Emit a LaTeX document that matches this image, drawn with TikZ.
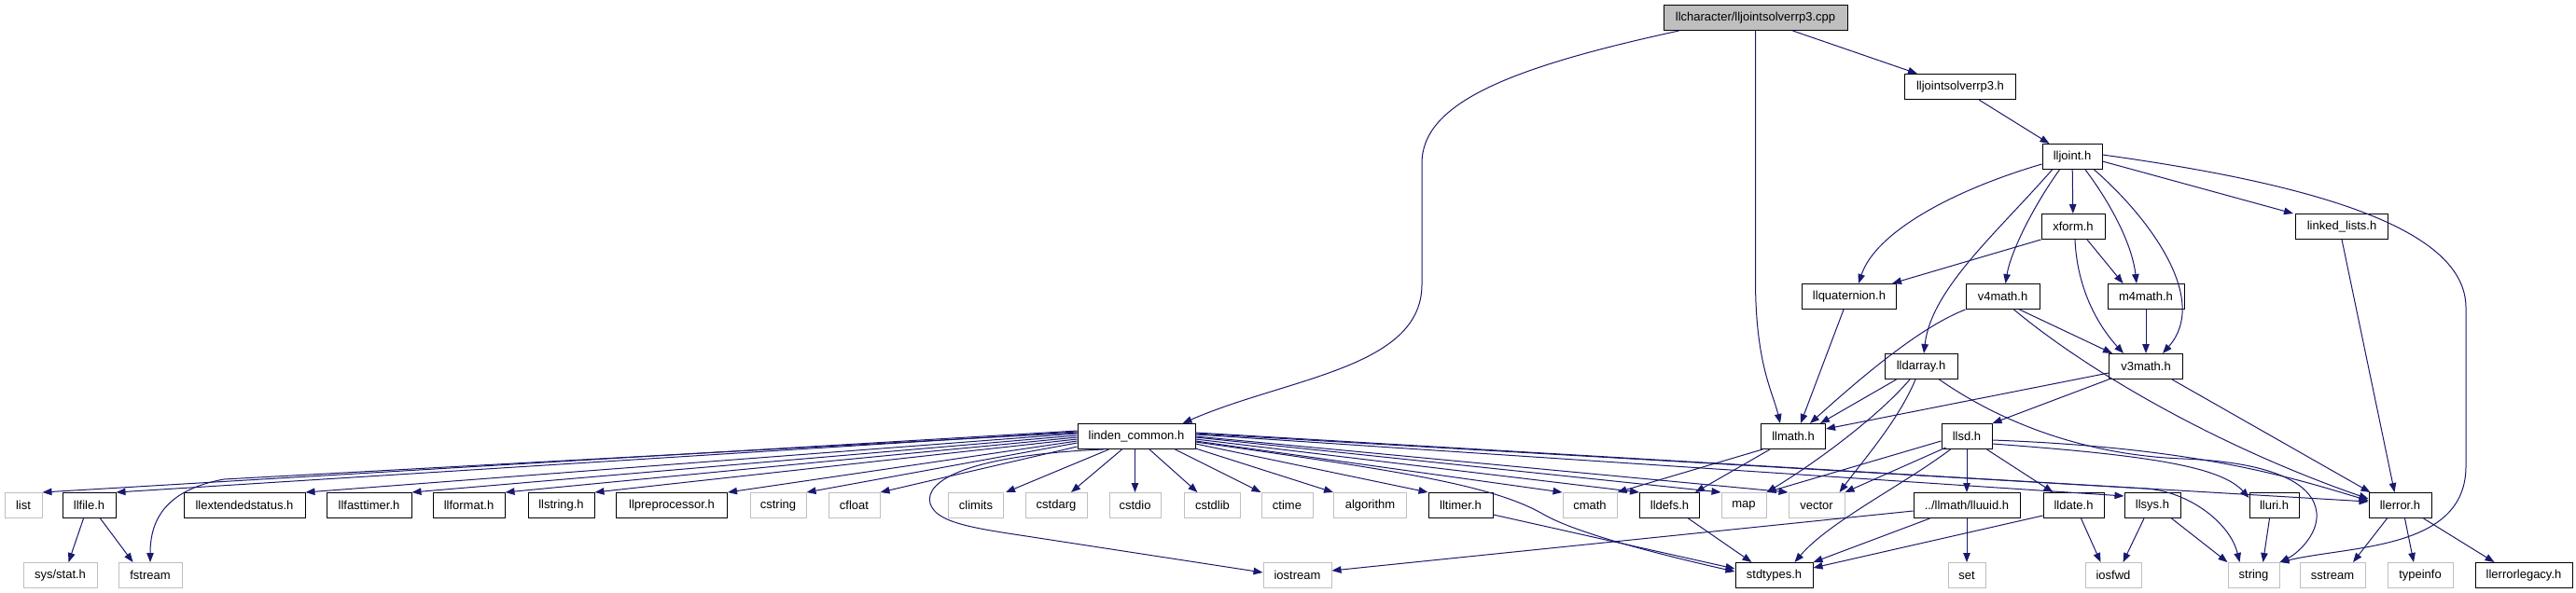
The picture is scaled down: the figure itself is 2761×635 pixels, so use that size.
\documentclass[tikz,border=0pt]{standalone}
\usepackage{fontspec}
\setmainfont{Liberation Sans}
\usetikzlibrary{arrows.meta,calc}
\definecolor{edgec}{HTML}{191970}
\definecolor{grayb}{HTML}{BFBFBF}
\tikzset{
  doc/.style={draw=black, line width=1pt, fill=white, minimum height=27pt, inner sep=0pt, font=\fontsize{13}{15}\selectfont, text=black},
  sys/.style={doc, draw=grayb},
  root/.style={doc, fill=grayb},
  e/.style={draw=edgec, line width=1pt, -{Triangle[length=10pt,width=7.5pt]}}
}
\begin{document}
\begin{tikzpicture}[x=1pt,y=-1pt]
\fill[white] (0,0) rectangle (2761,635);
% ---------- nodes
\node[root,minimum width=197pt] (cpp) at (1881.5,19) {llcharacter/lljointsolverrp3.cpp};
\node[doc,minimum width=119pt] (ljs) at (2101,93) {lljointsolverrp3.h};
\node[doc,minimum width=64pt] (lj) at (2221,168) {lljoint.h};
\node[doc,minimum width=68pt] (xf) at (2222,243) {xform.h};
\node[doc,minimum width=99pt] (ll) at (2510,243) {linked\_lists.h};
\node[doc,minimum width=101pt] (lq) at (1982,318) {llquaternion.h};
\node[doc,minimum width=79pt] (v4) at (2146.5,318) {v4math.h};
\node[doc,minimum width=82pt] (m4) at (2300,318) {m4math.h};
\node[doc,minimum width=78pt] (lda) at (2059,393) {lldarray.h};
\node[doc,minimum width=79pt] (v3) at (2300,393) {v3math.h};
\node[doc,minimum width=126pt] (lc) at (1218,468) {linden\_common.h};
\node[doc,minimum width=69pt] (lm) at (1922,468) {llmath.h};
\node[doc,minimum width=54pt] (sd) at (2108,468) {llsd.h};
% row 542
\node[sys,minimum width=40pt] (list) at (25,542) {list};
\node[doc,minimum width=57pt] (lf) at (95.5,542) {llfile.h};
\node[doc,minimum width=130pt] (les) at (262,542) {llextendedstatus.h};
\node[doc,minimum width=91pt] (lft) at (395.5,542) {llfasttimer.h};
\node[doc,minimum width=77pt] (lfo) at (502.5,542) {llformat.h};
\node[doc,minimum width=71pt] (lst) at (601.5,542) {llstring.h};
\node[doc,minimum width=119pt] (lpp) at (720,542) {llpreprocessor.h};
\node[sys,minimum width=60pt] (cstring) at (834,542) {cstring};
\node[sys,minimum width=55pt] (cfloat) at (915.5,542) {cfloat};
\node[sys,minimum width=59pt] (climits) at (1046,542) {climits};
\node[sys,minimum width=66pt] (cstdarg) at (1132,542) {cstdarg};
\node[sys,minimum width=55pt] (cstdio) at (1216.5,542) {cstdio};
\node[sys,minimum width=60pt] (cstdlib) at (1299.5,542) {cstdlib};
\node[sys,minimum width=55pt] (ctime) at (1379.5,542) {ctime};
\node[sys,minimum width=78pt] (algo) at (1468.5,542) {algorithm};
\node[doc,minimum width=69pt] (ltim) at (1565.5,542) {lltimer.h};
\node[sys,minimum width=58pt] (cmath) at (1704,542) {cmath};
\node[doc,minimum width=64pt] (ldefs) at (1789.5,542) {lldefs.h};
\node[sys,minimum width=48pt] (map) at (1869,542) {map};
\node[sys,minimum width=60pt] (vector) at (1947,542) {vector};
\node[doc,minimum width=114pt] (uuid) at (2108,542) {../llmath/lluuid.h};
\node[doc,minimum width=65pt] (ldate) at (2222.5,542) {lldate.h};
\node[doc,minimum width=60pt] (lsys) at (2307,542) {llsys.h};
\node[doc,minimum width=53pt] (luri) at (2437.5,542) {lluri.h};
\node[doc,minimum width=67pt] (lerr) at (2572.5,542) {llerror.h};
% row 617
\node[sys,minimum width=79pt] (sysstat) at (64.5,617) {sys/stat.h};
\node[sys,minimum width=68pt] (fstream) at (161,617) {fstream};
\node[sys,minimum width=73pt] (iostream) at (1390.5,617) {iostream};
\node[doc,minimum width=83pt] (stdt) at (1901.5,617) {stdtypes.h};
\node[sys,minimum width=40pt] (set) at (2108,617) {set};
\node[sys,minimum width=60pt] (iosfwd) at (2265,617) {iosfwd};
\node[sys,minimum width=55pt] (string) at (2415.5,617) {string};
\node[sys,minimum width=70pt] (sstream) at (2500,617) {sstream};
\node[sys,minimum width=70pt] (typeinfo) at (2594,617) {typeinfo};
\node[doc,minimum width=104pt] (legacy) at (2705,617) {llerrorlegacy.h};
% ---------- edges from the top
\draw[e] ($(cpp.south west)+(17,0)$) .. controls (1620,72) and (1524,110) .. (1524,175) -- (1524,305) .. controls (1524,395) and (1380,405) .. ($(lc.north east)+(-14,0)$);
\draw[e] (cpp.south) -- (1881.5,300) .. controls (1881.5,390) and (1900,420) .. ($(lm.north)+(-14,0)$);
\draw[e] ($(cpp.south)+(40,0)$) -- ($(ljs.north west)+(14,0)$);
\draw[e] ($(ljs.south)+(20,0)$) -- ($(lj.north west)+(8,0)$);
% lljoint
\draw[e] ($(lj.west)+(0,8)$) .. controls (2090,205) and (2010,250) .. ($(lq.north)+(10,0)$);
\draw[e] ($(lj.south west)+(11,0)$) .. controls (2140,250) and (2070,310) .. ($(lda.north)+(3,0)$);
\draw[e] ($(lj.south west)+(19,0)$) .. controls (2180,220) and (2155,270) .. ($(v4.north)+(3,0)$);
\draw[e] (lj) -- (xf);
\draw[e] ($(lj.south)+(14,0)$) .. controls (2260,215) and (2285,260) .. ($(m4.north)+(-10,0)$);
\draw[e] ($(lj.south east)+(-9,0)$) .. controls (2300,230) and (2370,320) .. ($(v3.north)+(18,0)$);
\draw[e] ($(lj.east)+(0,5)$) -- ($(ll.north west)+(-2,0)$);
\draw[e] ($(lj.east)+(0,-2)$) .. controls (2500,200) and (2643,250) .. (2643,330) -- (2643,500) .. controls (2643,590) and (2520,585) .. (string.north east);
% xform
\draw[e] (xf.south west) -- ($(lq.north east)+(-5,0)$);
\draw[e] ($(xf.south)+(15,0)$) -- ($(m4.north west)+(17,0)$);
\draw[e] ($(xf.south)+(2,0)$) .. controls (2226,305) and (2245,345) .. ($(v3.north west)+(16,0)$);
% quaternion, v4, m4
\draw[e] ($(lq.south)+(-6,0)$) -- ($(lm.north)+(8,0)$);
\draw[e] (v4.south west) .. controls (2060,350) and (2000,400) .. ($(lm.north)+(18,0)$);
\draw[e] ($(v4.south)+(18,0)$) -- ($(v3.north west)+(4,0)$);
\draw[e] ($(v4.south)+(12,0)$) .. controls (2240,400) and (2380,480) .. ($(lerr.west)+(0,-7)$);
\draw[e] (m4) -- (v3);
% v3math
\draw[e] ($(v3.west)+(0,7)$) -- ($(lm.east)+(0,-8)$);
\draw[e] (v3.south west) -- (sd.north east);
\draw[e] ($(v3.south east)+(-12,0)$) -- ($(lerr.north west)+(2,0)$);
\draw[e] (ll.south) -- ($(lerr.north)+(-6,0)$);
% lldarray
\draw[e] ($(lda.south west)+(13,0)$) -- ($(lm.north east)+(-6,0)$);
\draw[e] ($(lda.south)+(-12,0)$) .. controls (2010,450) and (1940,500) .. (map.north east);
\draw[e] ($(lda.south)+(-6,0)$) .. controls (2035,450) and (2000,490) .. ($(vector.north east)+(-6,0)$);
\draw[e] ($(lda.south east)+(-20,0)$) .. controls (2140,450) and (2230,488) .. (2340,492) .. controls (2440,496) and (2480,520) .. (2483,550) .. controls (2485,575) and (2460,595) .. (string.north east);
% llmath
\draw[e] ($(lm.south west)+(2,0)$) -- (cmath.north east);
\draw[e] ($(lm.south west)+(10,0)$) -- ($(ldefs.north east)+(-5,0)$);
% llsd
\draw[e] ($(sd.west)+(0,5)$) -- (map.north east);
\draw[e] ($(sd.south west)+(5,-2)$) -- (vector.north east);
\draw[e] ($(sd.south west)+(10,0)$) .. controls (2040,520) and (1960,560) .. ($(stdt.north)+(22,0)$);
\draw[e] (sd) -- (uuid);
\draw[e] ($(sd.south east)+(-6,0)$) -- ($(ldate.north)+(-22,0)$);
\draw[e] ($(sd.east)+(0,8)$) .. controls (2300,488) and (2380,500) .. ($(luri.west)+(0,-8)$);
\draw[e] ($(sd.east)+(0,4)$) .. controls (2350,480) and (2450,510) .. ($(lerr.west)+(0,-5)$);
% row 542 sources
\draw[e] ($(uuid.west)+(0,6)$) -- ($(iostream.east)+(0,-5)$);
\draw[e] ($(uuid.south west)+(18,0)$) -- (stdt.north east);
\draw[e] (uuid) -- (set);
\draw[e] ($(ldate.south west)+(0,-3)$) -- ($(stdt.east)+(0,-8)$);
\draw[e] ($(ldate.south)+(8,0)$) -- ($(iosfwd.north west)+(17,0)$);
\draw[e] ($(lsys.south)+(-9,0)$) -- ($(iosfwd.north east)+(-20,0)$);
\draw[e] ($(lsys.south east)+(-10,0)$) -- (string.north west);
\draw[e] ($(luri.south)+(-5,0)$) -- ($(string.north)+(10,0)$);
\draw[e] ($(lerr.south)+(-14,0)$) -- ($(sstream.north)+(22,0)$);
\draw[e] ($(lerr.south)+(5,0)$) -- ($(typeinfo.north)+(-7,0)$);
\draw[e] ($(lerr.south east)+(-9,0)$) -- ($(legacy.north west)+(21,0)$);
\draw[e] ($(lf.south)+(-6,0)$) -- ($(sysstat.north)+(9,0)$);
\draw[e] ($(lf.south)+(12,0)$) -- ($(fstream.north west)+(16,0)$);
\draw[e] ($(ldefs.south)+(20,0)$) -- ($(stdt.north)+(-24,0)$);
\draw[e] ($(ltim.east)+(0,10)$) -- ($(stdt.west)+(0,-7)$);
% linden_common fan
\draw[e] ($(lc.west)+(0,-6)$) -- (list.north east);
\draw[e] ($(lc.west)+(0,-5)$) -- (lf.north east);
\draw[e] ($(lc.west)+(0,-4)$) -- (240,514) .. controls (180,525) and (161,555) .. (fstream.north);
\draw[e] ($(lc.west)+(0,-3)$) -- (les.north east);
\draw[e] ($(lc.west)+(0,-1)$) -- (lft.north east);
\draw[e] ($(lc.west)+(0,1)$) -- (lfo.north east);
\draw[e] ($(lc.west)+(0,3)$) -- (lst.north east);
\draw[e] ($(lc.west)+(0,5)$) -- (lpp.north east);
\draw[e] ($(lc.west)+(0,7)$) -- (cstring.north east);
\draw[e] ($(lc.west)+(0,11)$) -- (cfloat.north east);
\draw[e] ($(lc.south west)+(28,0)$) .. controls (1040,488) and (990,515) .. (997,540) .. controls (1003,560) and (1040,566) .. (1100,575) -- ($(iostream.west)+(0,-3)$);
\draw[e] ($(lc.south west)+(34,0)$) -- ($(climits.north east)+(2,0)$);
\draw[e] ($(lc.south west)+(48,0)$) -- ($(cstdarg.north)+(16,0)$);
\draw[e] (cstdio.north |- lc.south) -- (cstdio.north);
\draw[e] ($(lc.south)+(14,0)$) -- ($(cstdlib.north)+(-16,0)$);
\draw[e] ($(lc.south east)+(-22,0)$) -- (ctime.north west);
\draw[e] ($(lc.south east)+(0,-1)$) -- (algo.north west);
\draw[e] ($(lc.east)+(0,8)$) -- (ltim.north west);
\draw[e] ($(lc.east)+(0,6)$) .. controls (1500,505) and (1600,520) .. (1655,552) .. controls (1690,572) and (1780,595) .. ($(stdt.west)+(0,-4)$);
\draw[e] ($(lc.east)+(0,5)$) -- (cmath.north west);
\draw[e] ($(lc.east)+(0,3)$) -- (ldefs.north west);
\draw[e] ($(lc.east)+(0,1)$) -- (map.north west);
\draw[e] ($(lc.east)+(0,0)$) -- (vector.north west);
\draw[e] ($(lc.east)+(0,-2)$) -- ($(lsys.west)+(0,-10)$);
\draw[e] ($(lc.east)+(0,-3)$) -- (2300,524) .. controls (2345,527) and (2390,560) .. ($(string.north)+(-15,0)$);
\draw[e] ($(lc.east)+(0,-4)$) -- ($(lerr.west)+(0,-4)$);
\end{tikzpicture}
\end{document}
